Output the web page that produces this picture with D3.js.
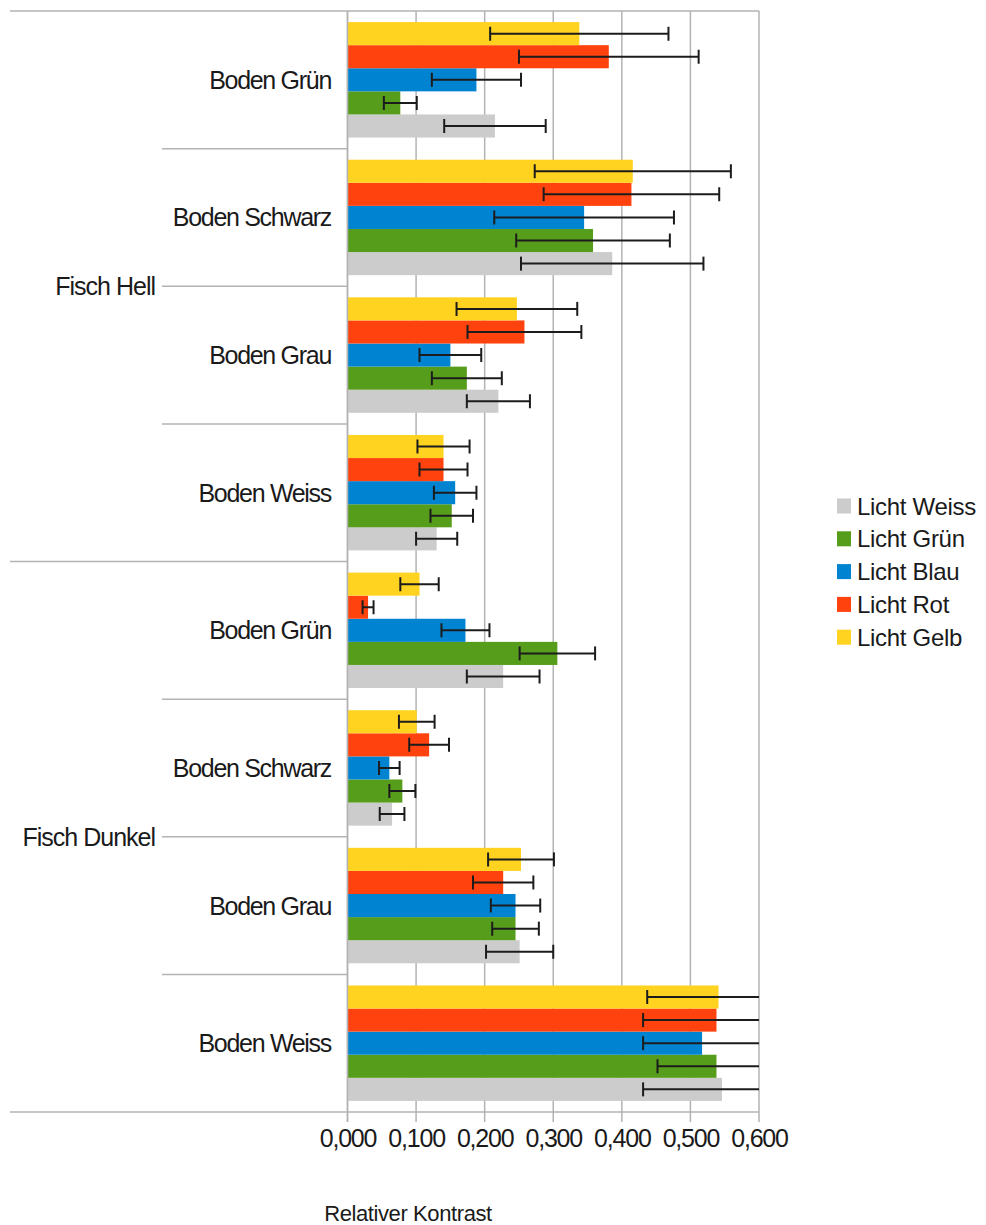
<!DOCTYPE html>
<html><head><meta charset="utf-8">
<script src="https://cdn.jsdelivr.net/npm/d3@7"></script>
<style>
html,body{margin:0;padding:0;background:#fff;}
text{font-family:"Liberation Sans",Arial,sans-serif;fill:#1a1a1a;}
</style></head>
<body><svg id="chart" width="986" height="1225"></svg>
<script>
const categories = ["Boden Grün","Boden Schwarz","Boden Grau","Boden Weiss","Boden Grün","Boden Schwarz","Boden Grau","Boden Weiss"];
const groups = ["Fisch Hell","Fisch Dunkel"];
const series = ["Licht Weiss","Licht Grün","Licht Blau","Licht Rot","Licht Gelb"];
const colors = ["#cccccc","#579d1c","#0084d1","#ff420e","#ffd320"];
const valWeiss = [0.215,0.386,0.220,0.130,0.227,0.065,0.251,0.546];
const valGruen = [0.077,0.358,0.174,0.152,0.306,0.080,0.245,0.538];
const valBlau  = [0.188,0.345,0.150,0.157,0.172,0.061,0.245,0.517];
const valRot   = [0.381,0.414,0.258,0.140,0.030,0.119,0.227,0.538];
const valGelb  = [0.338,0.416,0.247,0.140,0.105,0.101,0.253,0.541];
const errWeiss = [0.074,0.133,0.046,0.030,0.053,0.018,0.049,0.115];
const errGruen = [0.024,0.112,0.051,0.031,0.055,0.019,0.034,0.086];
const errBlau  = [0.065,0.131,0.045,0.031,0.035,0.015,0.036,0.086];
const errRot   = [0.131,0.128,0.083,0.035,0.008,0.029,0.044,0.107];
const errGelb  = [0.130,0.143,0.088,0.038,0.028,0.026,0.048,0.104];
const tickValues = [0,0.1,0.2,0.3,0.4,0.5,0.6];
const xTitle = "Relativer Kontrast";

const values = [valWeiss,valGruen,valBlau,valRot,valGelb];
const errors = [errWeiss,errGruen,errBlau,errRot,errGelb];

const svg = d3.select("#chart");
const L = 347.5, R = 759, T = 11, B = 1112;
const grid = "#b3b3b3";

const x = d3.scaleLinear().domain([0,0.6]).range([L,R]);
const y = d3.scaleBand().domain(d3.range(categories.length)).range([T,B]).padding(0);
const ys = d3.scaleBand().domain(d3.range(series.length).reverse()).range([0,y.bandwidth()]).paddingInner(0).paddingOuter(0.48);

// gridlines
svg.append("g").selectAll("line").data(tickValues).join("line")
  .attr("x1",d=>x(d)).attr("x2",d=>x(d)).attr("y1",T).attr("y2",B+10)
  .attr("stroke",grid).attr("stroke-width",1.5);

// bars
const data = [];
categories.forEach((c,ci)=>series.forEach((s,si)=>data.push({ci,si,v:values[si][ci],e:errors[si][ci]})));
svg.append("g").selectAll("rect").data(data).join("rect")
  .attr("x",x(0)).attr("y",d=>y(d.ci)+ys(d.si))
  .attr("width",d=>x(d.v)-x(0)).attr("height",ys.bandwidth())
  .attr("fill",d=>colors[d.si]);

// frame
svg.append("line").attr("x1",10).attr("x2",R).attr("y1",T).attr("y2",T).attr("stroke",grid).attr("stroke-width",1.5);
svg.append("line").attr("x1",10).attr("x2",R).attr("y1",B).attr("y2",B).attr("stroke",grid).attr("stroke-width",1.5);
svg.append("line").attr("x1",L).attr("x2",L).attr("y1",T).attr("y2",B+10).attr("stroke",grid).attr("stroke-width",1.5);

// category separators
svg.append("g").selectAll("line").data(d3.range(1,categories.length)).join("line")
  .attr("x1",d=>d===4?10:162).attr("x2",L).attr("y1",d=>y(d)).attr("y2",d=>y(d))
  .attr("stroke",grid).attr("stroke-width",1.5);

// error bars (clipped)
svg.append("clipPath").attr("id","clip").append("rect").attr("x",L-10).attr("y",T).attr("width",R-L+10).attr("height",B-T);
const eg = svg.append("g").attr("clip-path","url(#clip)");
const ec = "#1c1c1c", cap = 7, ew = 2;
data.forEach(d=>{
  const cy = y(d.ci)+ys(d.si)+ys.bandwidth()/2;
  const x1 = x(d.v-d.e), x2 = x(d.v+d.e);
  eg.append("line").attr("x1",x1).attr("x2",Math.min(x2,R)).attr("y1",cy).attr("y2",cy).attr("stroke",ec).attr("stroke-width",ew);
  eg.append("line").attr("x1",x1).attr("x2",x1).attr("y1",cy-cap).attr("y2",cy+cap).attr("stroke",ec).attr("stroke-width",ew);
  if (x2<=R) eg.append("line").attr("x1",x2).attr("x2",x2).attr("y1",cy-cap).attr("y2",cy+cap).attr("stroke",ec).attr("stroke-width",ew);
});

// x axis labels
const xa = d3.axisBottom(x).tickValues(tickValues).tickSize(0).tickFormat(d=>d3.format(".3f")(d).replace(".",","));
const ag = svg.append("g").attr("transform",`translate(0,${B})`).call(xa);
ag.select(".domain").remove();
ag.selectAll("text").attr("y",35).attr("dy",0).attr("font-size",25).attr("letter-spacing","-1.2px")
  .style("font-family",'"Liberation Sans",Arial,sans-serif').attr("fill","#1a1a1a");

// category labels
svg.append("g").selectAll("text").data(categories).join("text")
  .attr("x",331).attr("y",(d,i)=>y(i)+y.bandwidth()/2+9)
  .attr("text-anchor","end").attr("font-size",25).attr("letter-spacing","-1.3px").text(d=>d);

// group labels
svg.append("g").selectAll("text").data(groups).join("text")
  .attr("x",155).attr("y",(d,i)=>y(i*4+2)+9)
  .attr("text-anchor","end").attr("font-size",25).attr("letter-spacing","-1px").text(d=>d);

// x title
svg.append("text").attr("x",408).attr("y",1221).attr("text-anchor","middle").attr("font-size",22).attr("letter-spacing","-0.4px").text(xTitle);

// legend
const lg = svg.append("g").selectAll("g").data(series).join("g")
  .attr("transform",(d,i)=>`translate(837,${506+i*32.8})`);
lg.append("rect").attr("x",0).attr("y",-7.5).attr("width",14).attr("height",15).attr("fill",(d,i)=>colors[i]);
lg.append("text").attr("x",20).attr("y",8.5).attr("font-size",24).attr("letter-spacing","-0.3px").text(d=>d);
</script></body></html>
